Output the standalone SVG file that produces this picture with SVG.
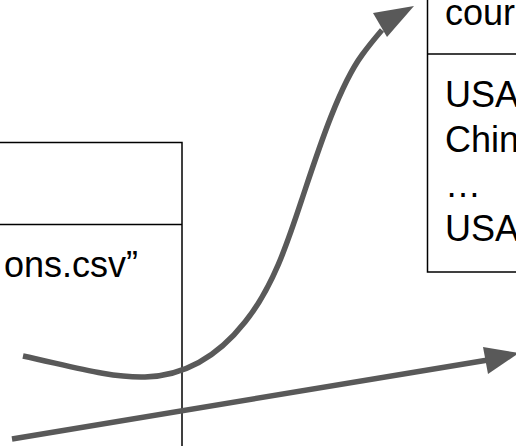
<svg xmlns="http://www.w3.org/2000/svg" width="516" height="446" viewBox="0 0 516 446">
<style>
.box{fill:#fff;stroke:#000;stroke-width:1.5}
.div{stroke:#000;stroke-width:1.5}
.t{font-family:"Liberation Sans",Arial,sans-serif;font-size:36px;fill:#000}
.conn{fill:none;stroke:#595959;stroke-width:5.5}
.head{fill:#595959;stroke:none}
</style>
<rect width="516" height="446" fill="#fff"/>
<g id="node-left">
<rect class="box" x="-20" y="142.5" width="202" height="330"/>
<line class="div" x1="-20" y1="224.5" x2="182" y2="224.5"/>
<text class="t" x="138" y="277" text-anchor="end">ons.csv”</text>
</g>
<g id="node-right">
<rect class="box" x="427.5" y="-20" width="110" height="292"/>
<line class="div" x1="427.5" y1="54" x2="537" y2="54"/>
<text class="t" x="445" y="25">cour</text>
<text class="t" x="445" y="107">USA</text>
<text class="t" x="445" y="152">Chin</text>
<text class="t" x="445" y="197">…</text>
<text class="t" x="445" y="241">USA</text>
</g>
<g id="connectors">
<path class="conn" d="M23,356 C70,366 110,378 145,377 C180,376 215,360 245,322 C275,285 290,235 305,190 C320,145 340,85 362,55 C370,44 376,37 382,30"/>
<polygon class="head" points="373,13 414,6 387,37"/>
<path class="conn" d="M12,439 L488,360"/>
<polygon class="head" points="483,347 519,353 488,374"/>
</g>
</svg>
